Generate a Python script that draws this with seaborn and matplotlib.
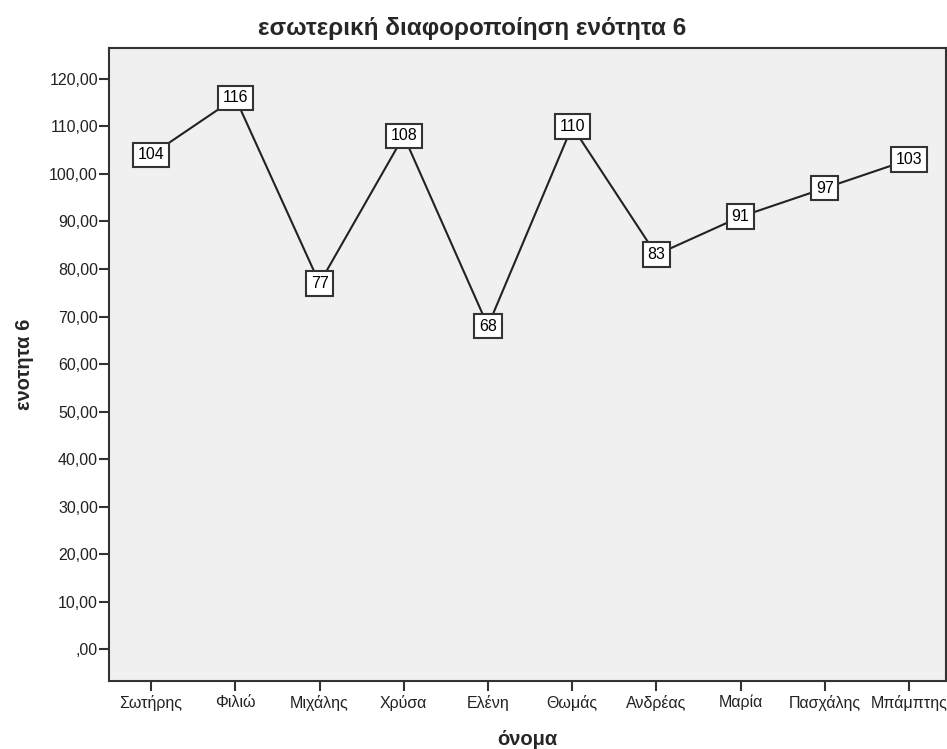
import matplotlib
matplotlib.use('Agg')
import matplotlib.pyplot as plt
import seaborn as sns
import pandas as pd

names = ['Σωτήρης', 'Φιλιώ', 'Μιχάλης', 'Χρύσα', 'Ελένη',
         'Θωμάς', 'Ανδρέας', 'Μαρία', 'Πασχάλης', 'Μπάμπτης']
scores = [104, 116, 77, 108, 68, 110, 83, 91, 97, 103]
yticks = list(range(0, 121, 10))

df = pd.DataFrame({'όνομα': names, 'ενοτητα 6': scores})

sns.set_style('white')
plt.rcParams['font.family'] = ['Liberation Sans', 'DejaVu Sans']

fig = plt.figure(figsize=(9.47, 7.49), dpi=100)
ax = fig.add_axes([109 / 947, (749 - 681) / 749, (946 - 109) / 947, (681 - 48) / 749])
ax.set_facecolor('#f0f0f0')

sns.lineplot(data=df, x='όνομα', y='ενοτητα 6', color='#222222', linewidth=1.5,
             sort=False, ax=ax)

# value boxes on each point
for i, v in enumerate(scores):
    ax.text(i, v, str(v), ha='center', va='center', fontsize=11.5, color='black',
            bbox=dict(boxstyle='square,pad=0.3', facecolor='white',
                      edgecolor='#333333', linewidth=1.5), zorder=5)

ax.set_xlim(-0.5, 9.44)
ax.set_ylim(-6.7, 126.5)
ax.set_yticks(yticks)
ax.set_yticklabels([f'{t},00' if t else ',00' for t in yticks])
ax.tick_params(axis='both', direction='out', length=7, width=1.5, color='#333333',
               labelsize=11.5, labelcolor='#222222')
ax.tick_params(axis='y', pad=1)
ax.tick_params(axis='x', pad=3)
ax.tick_params(axis='both', which='both', left=True, bottom=True)

for s in ax.spines.values():
    s.set_color('#333333')
    s.set_linewidth(1.5)

ax.set_xlabel('όνομα', fontsize=14.5, fontweight='bold')
ax.set_ylabel('ενοτητα 6', fontsize=14.5, fontweight='bold')
ax.xaxis.set_label_coords(0.5, -0.077)
ax.yaxis.set_label_coords(-0.09, 0.5)
fig.text(0.4985, 1 - 28 / 749, 'εσωτερική διαφοροποίηση ενότητα 6', ha='center', va='center',
         fontsize=17.5, fontweight='bold')

fig.savefig('out.png', dpi=100)
